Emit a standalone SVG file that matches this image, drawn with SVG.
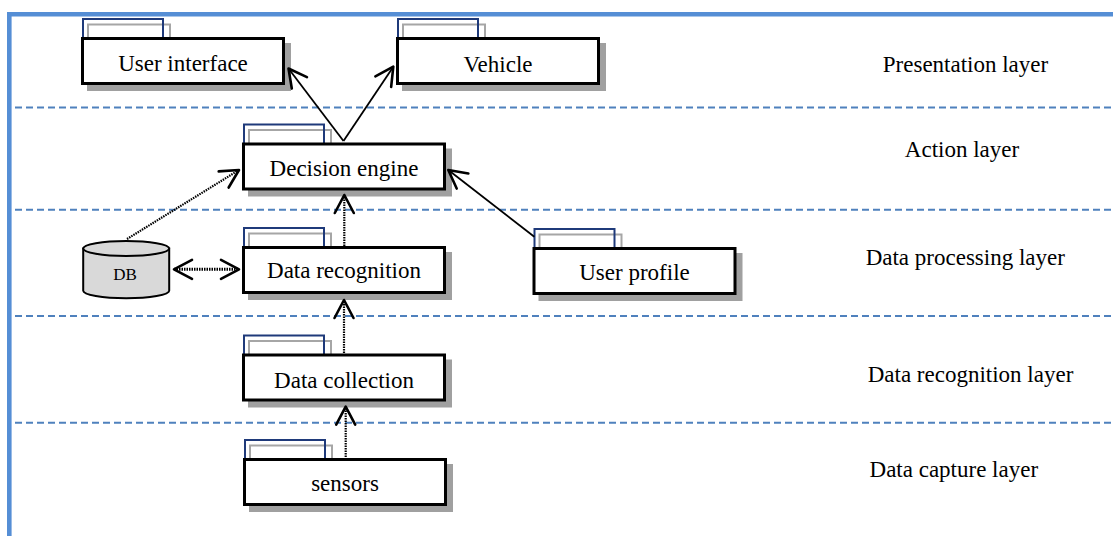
<svg xmlns="http://www.w3.org/2000/svg" width="1113" height="536" viewBox="0 0 1113 536">
<style>
.frame{fill:none;stroke:#558ED5;stroke-width:4.6}
.sep{stroke:#4F81BD;stroke-width:2;stroke-dasharray:7 4}
.shadow{fill:#A0A0A0}
.box{fill:#fff;stroke:#000;stroke-width:3}
.tabb{fill:none;stroke:#1F3A7A;stroke-width:2}
.tabg{fill:none;stroke:#A6A6A6;stroke-width:2}
.lbl{font-family:"Liberation Serif","Times New Roman",serif;font-size:23px;fill:#000;text-anchor:middle}
.solid{fill:none;stroke:#000;stroke-width:1.8}
.dot{fill:none;stroke:#000;stroke-width:2.2;stroke-dasharray:1.5 1}
.dot2{fill:none;stroke:#000;stroke-width:3;stroke-dasharray:1.5 1}
</style>
<defs>
<marker id="arr" markerUnits="userSpaceOnUse" markerWidth="30" markerHeight="30" viewBox="-25 -15 30 30" refX="0" refY="0" orient="auto-start-reverse" overflow="visible">
<path d="M-18,-9.5 L0,0 L-18,9.5" fill="none" stroke="#000" stroke-width="2.6" stroke-linejoin="round" stroke-linecap="round"/>
</marker>
</defs>
<rect width="1113" height="536" fill="#fff"/>
<path class="frame" d="M9.3,536 V14.3 H1113"/>
<g id="layers">
<line class="sep" x1="15" y1="107.5" x2="1113" y2="107.5"/>
<line class="sep" x1="15" y1="209.7" x2="1113" y2="209.7"/>
<line class="sep" x1="15" y1="316" x2="1113" y2="316"/>
<line class="sep" x1="15" y1="422.7" x2="1113" y2="422.7"/>
<text class="lbl" x="965.5" y="71.7">Presentation layer</text>
<text class="lbl" x="962" y="157.3">Action layer</text>
<text class="lbl" x="965.3" y="265">Data processing layer</text>
<text class="lbl" x="970.5" y="381.7">Data recognition layer</text>
<text class="lbl" x="953.8" y="476.7">Data capture layer</text>
</g>
<g id="user-interface">
<rect class="shadow" x="87" y="43" width="204" height="48"/>
<rect class="tabg" x="88" y="24.5" width="82" height="15"/>
<rect class="tabb" x="83" y="19" width="80" height="20"/>
<rect class="box" x="82.5" y="38.5" width="201" height="45"/>
<text class="lbl" x="183" y="71">User interface</text>
</g>
<g id="vehicle">
<rect class="shadow" x="402" y="43" width="204" height="48"/>
<rect class="tabg" x="403" y="24.5" width="82" height="15"/>
<rect class="tabb" x="398" y="19" width="80" height="20"/>
<rect class="box" x="397.5" y="38.5" width="201" height="45"/>
<text class="lbl" x="498" y="71.7">Vehicle</text>
</g>
<g id="decision-engine">
<rect class="shadow" x="248" y="148.5" width="204" height="48"/>
<rect class="tabg" x="249" y="130" width="82" height="15"/>
<rect class="tabb" x="244" y="124.5" width="80" height="20"/>
<rect class="box" x="243.5" y="144" width="201" height="45"/>
<text class="lbl" x="344" y="175.7">Decision engine</text>
</g>
<g id="data-recognition">
<rect class="shadow" x="248" y="252" width="204" height="48"/>
<rect class="tabg" x="249" y="233.5" width="82" height="15"/>
<rect class="tabb" x="244" y="228" width="80" height="20"/>
<rect class="box" x="243.5" y="247.5" width="201" height="45"/>
<text class="lbl" x="344" y="278.3">Data recognition</text>
</g>
<g id="user-profile">
<rect class="shadow" x="538.5" y="253" width="204" height="48"/>
<rect class="tabg" x="539.5" y="234.5" width="82" height="15"/>
<rect class="tabb" x="534.5" y="229" width="80" height="20"/>
<rect class="box" x="534" y="248.5" width="201" height="45"/>
<text class="lbl" x="634.5" y="280">User profile</text>
</g>
<g id="data-collection">
<rect class="shadow" x="248" y="359.5" width="204" height="48"/>
<rect class="tabg" x="249" y="341" width="82" height="15"/>
<rect class="tabb" x="244" y="335.5" width="80" height="20"/>
<rect class="box" x="243.5" y="355" width="201" height="45"/>
<text class="lbl" x="344" y="387.7">Data collection</text>
</g>
<g id="sensors">
<rect class="shadow" x="249" y="464" width="204" height="48"/>
<rect class="tabg" x="250" y="445.5" width="82" height="15"/>
<rect class="tabb" x="245" y="440" width="80" height="20"/>
<rect class="box" x="244.5" y="459.5" width="201" height="45"/>
<text class="lbl" x="345" y="490.7">sensors</text>
</g>
<g id="db">
<path d="M83.2,248.5 V290.8 A43,7.5 0 0 0 169.2,290.8 V248.5 Z" fill="#D9D9D9" stroke="#000" stroke-width="2"/>
<ellipse cx="126.2" cy="248.5" rx="43" ry="7.5" fill="#D9D9D9" stroke="#000" stroke-width="2"/>
<text x="125" y="280" font-family="Liberation Serif, Times New Roman, serif" font-size="17" text-anchor="middle" fill="#000">DB</text>
</g>
<g id="connectors">
<line class="solid" x1="343.5" y1="141" x2="288.5" y2="68.5" marker-end="url(#arr)"/>
<line class="solid" x1="343.5" y1="141" x2="393.3" y2="66.7" marker-end="url(#arr)"/>
<line class="dot" x1="127" y1="239" x2="239" y2="170" marker-end="url(#arr)"/>
<line class="solid" x1="534.3" y1="236.7" x2="448.3" y2="170" marker-end="url(#arr)"/>
<line class="dot" x1="344.3" y1="246" x2="344.3" y2="195" marker-end="url(#arr)"/>
<line class="dot2" x1="174" y1="269.3" x2="239" y2="269.3" marker-start="url(#arr)" marker-end="url(#arr)"/>
<line class="dot" x1="344" y1="353" x2="344" y2="300" marker-end="url(#arr)"/>
<line class="dot" x1="345.7" y1="457" x2="345.7" y2="406.7" marker-end="url(#arr)"/>
</g>
</svg>
